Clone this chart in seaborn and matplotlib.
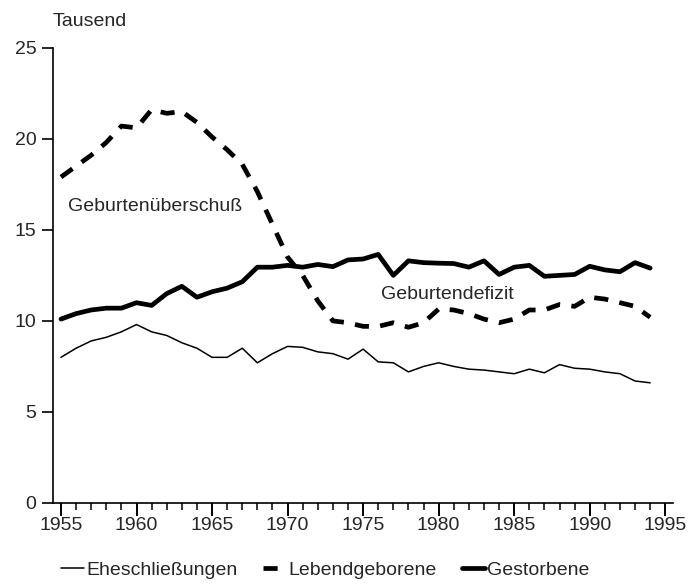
import matplotlib
matplotlib.use("Agg")
import matplotlib.pyplot as plt
import seaborn as sns
from matplotlib.ticker import MultipleLocator

# Jahre 1955-1994, Werte in Tausend
jahre = list(range(1955, 1995))

eheschliessungen = [8.0, 8.5, 8.9, 9.1, 9.4, 9.8, 9.4, 9.2, 8.8, 8.5,
                    8.0, 8.0, 8.5, 7.7, 8.2, 8.6, 8.55, 8.3, 8.2, 7.9,
                    8.45, 7.75, 7.7, 7.2, 7.5, 7.7, 7.5, 7.35, 7.3, 7.2,
                    7.1, 7.35, 7.15, 7.6, 7.4, 7.35, 7.2, 7.1, 6.7, 6.6]

lebendgeborene = [17.9, 18.5, 19.1, 19.8, 20.7, 20.6, 21.6, 21.4, 21.5, 20.9,
                  20.1, 19.4, 18.6, 17.1, 15.3, 13.5, 12.5, 11.1, 10.0, 9.9,
                  9.7, 9.7, 9.9, 9.65, 9.9, 10.65, 10.6, 10.4, 10.1, 9.9,
                  10.1, 10.6, 10.6, 10.9, 10.8, 11.3, 11.2, 11.0, 10.8, 10.2]

gestorbene = [10.1, 10.4, 10.6, 10.7, 10.7, 11.0, 10.85, 11.5, 11.9, 11.3,
              11.6, 11.8, 12.15, 12.95, 12.95, 13.05, 12.95, 13.1, 12.98, 13.35,
              13.4, 13.65, 12.5, 13.3, 13.2, 13.17, 13.15, 12.95, 13.3, 12.55,
              12.95, 13.05, 12.45, 12.5, 12.55, 13.0, 12.8, 12.7, 13.2, 12.9]

y_ticks = [0, 5, 10, 15, 20, 25]
x_ticks = [1955, 1960, 1965, 1970, 1975, 1980, 1985, 1990, 1995]

sns.set_style("white")
plt.rcParams['font.family'] = ['Liberation Sans', 'DejaVu Sans']
plt.rcParams['font.size'] = 14

fig = plt.figure(figsize=(6.98, 5.84), dpi=100)
ax = fig.add_axes([0.0759, 0.1387, 0.888, 0.7795])

sns.lineplot(x=jahre, y=eheschliessungen, ax=ax, color='black',
             linewidth=1.1, label='Eheschließungen')
sns.lineplot(x=jahre, y=lebendgeborene, ax=ax, color='black',
             linewidth=3.4, label='Lebendgeborene')
ax.lines[-1].set_dashes((3.0, 2.4))
sns.lineplot(x=jahre, y=gestorbene, ax=ax, color='black',
             linewidth=3.4, label='Gestorbene')

ax.set_xlim(1954.47, 1995.5)
ax.set_ylim(0, 25)
ax.set_yticks(y_ticks)
ax.set_xticks(x_ticks)
ax.xaxis.set_minor_locator(MultipleLocator(1))
ax.tick_params(axis='y', which='major', direction='out', length=8,
               width=1.2, color='black', pad=4, labelsize=14, left=True)
ax.tick_params(axis='x', which='major', direction='out', length=9,
               width=1.4, color='black', pad=1, labelsize=14, bottom=True)
ax.tick_params(axis='x', which='minor', direction='out', length=5,
               width=1.1, color='black', bottom=True)

for side in ['top', 'right']:
    ax.spines[side].set_visible(False)
for side in ['left', 'bottom']:
    ax.spines[side].set_color('black')
    ax.spines[side].set_linewidth(1.2)

ax.set_xlabel('')
ax.set_ylabel('')

# Beschriftungen
fig.text(53 / 698, 1 - 22 / 584, 'Tausend', ha='left', va='center', fontsize=14)
ax.text(1955.45, 16.3, 'Geburtenüberschuß', ha='left', va='center', fontsize=14)
ax.text(1976.2, 11.45, 'Geburtendefizit', ha='left', va='center', fontsize=14)

handles, labels = ax.get_legend_handles_labels()
ax.get_legend().remove()
fig.legend(handles, labels, loc='center', bbox_to_anchor=(0.466, 0.024),
           ncol=3, frameon=False, handlelength=1.2, handletextpad=0.1,
           columnspacing=1.3, fontsize=14)

fig.savefig('out.png', dpi=100)
